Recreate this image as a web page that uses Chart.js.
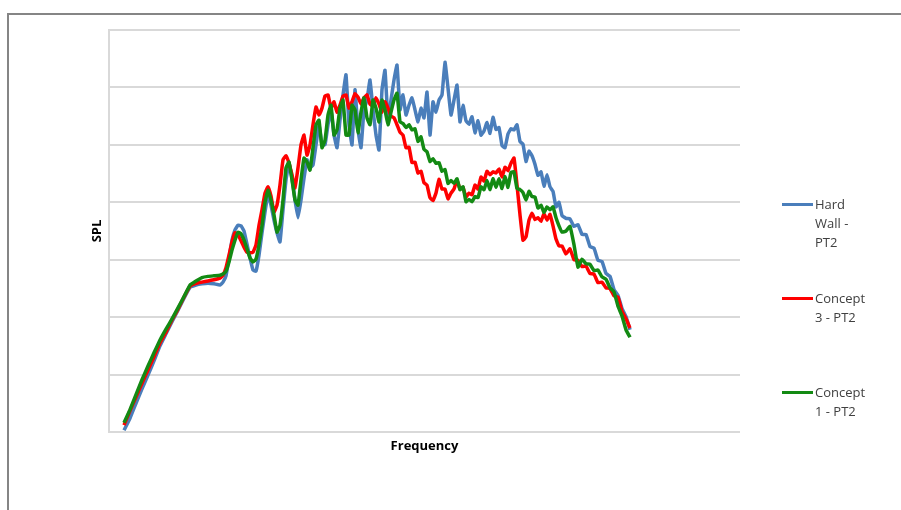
<!DOCTYPE html>
<html lang="en">
<head>
    <meta charset="UTF-8">
    <title>SPL vs Frequency</title>
    <script src="https://cdn.jsdelivr.net/npm/chart.js"></script>
    <style>
        html, body { margin: 0; padding: 0; background: #fff; overflow: hidden; }
        #wrap { position: relative; width: 901px; height: 510px; overflow: hidden; }
        #frame { position: absolute; left: 7px; top: 13px; width: 1000px; height: 600px;
                 border-left: 2px solid #858585; border-top: 2px solid #858585; }
        #myChart { position: absolute; left: 0; top: 0; }
        #legend { position: absolute; left: 782px; top: 0; font-family: 'Open Sans', sans-serif;
                  font-size: 13px; color: #404040; }
        .item { position: absolute; left: 0; width: 100px; }
        .swatch { position: absolute; left: 0; top: 8px; width: 31px; height: 3px; }
        .label { position: absolute; left: 33px; top: 0; width: 58px; line-height: 19px; }
    </style>
</head>
<body>
<div id="wrap">
    <div id="frame"></div>
    <canvas id="myChart" width="901" height="510"></canvas>
    <div id="legend"></div>
</div>
<script>
    // frequency bins (shared by all three measurements)
    const freq = [
        15, 21, 27, 33, 39, 45, 51, 57, 63, 69, 75, 81, 87, 93, 99, 105, 111,
        114, 117, 120, 123, 126, 129, 132, 135, 138, 141, 144, 147, 150, 153, 156, 159, 162, 165, 168, 171,
        174, 177, 180, 183, 186, 189, 192, 195, 198, 201, 204, 207, 210, 213, 216, 219, 222, 225, 228, 231,
        234, 237, 240, 243, 246, 249, 252, 255, 258, 261, 264, 267, 270, 273, 276, 279, 282, 285, 288, 291,
        294, 297, 300, 303, 306, 309, 312, 315, 318, 321, 324, 327, 330, 333, 336, 339, 342, 345, 348, 351,
        354, 357, 360, 363, 366, 369, 372, 375, 378, 381, 384, 387, 390, 393, 396, 399, 402, 405, 408, 411,
        414, 417, 420, 423, 426, 429, 432, 435, 438, 441, 444, 447, 450, 453,
        457, 461, 465, 469, 473, 477, 481, 485, 489, 493, 497, 501, 505, 509, 513, 517, 521
    ];

    const hardWall = [
        0.3, 2.4, 5.0, 7.5, 9.9, 12.4, 15.0, 17.1, 19.2, 21.2, 23.3, 25.2, 25.6, 25.8, 25.9, 25.8, 25.6,
        26.1, 27.2, 30.3, 33.4, 35.2, 36.0, 35.9, 35.0, 32.7, 30.3,
        28.2, 28.0, 30.8, 34.7, 38.3, 41.4, 39.5, 36.9, 34.7, 33.1,
        38.7, 43.9, 46.8, 44.2, 40.4, 37.3, 40.4, 44.2, 47.4, 46.0,
        46.5, 50.0, 53.5, 50.0, 50.0, 53.5, 56.1, 51.7, 49.5, 54.3,
        58.7, 62.2, 53.5, 50.0, 59.6, 52.6, 49.5, 56.1, 57.8, 61.3,
        56.1, 51.7, 49.1, 59.6, 63.0, 54.3, 57.8, 61.3, 63.9, 56.1,
        58.7, 55.2, 56.9, 58.2, 56.1, 54.0, 56.4, 54.7, 59.2, 51.7,
        57.5, 55.7, 57.8, 58.7, 64.4, 59.9, 55.2, 57.8, 60.4, 54.0,
        56.9, 54.2, 53.6, 54.9, 52.1, 54.2, 51.7, 52.4, 53.9, 52.0,
        54.8, 52.7, 53.0, 49.9, 49.5, 51.9, 52.8, 52.6, 53.5, 50.6,
        50.1, 47.1, 48.9, 48.1, 46.6, 44.7, 45.3, 42.8, 44.8, 42.7,
        41.9, 39.2, 40.0, 37.7,
        37.2, 37.1, 35.8, 36.1, 34.4, 34.4, 32.3, 32.0, 29.9, 29.7, 27.6, 27.1, 24.8, 23.8, 21.5, 20.1, 17.8
    ];

    const concept3 = [
        1.2, 3.7, 6.1, 8.5, 10.8, 13.1, 15.5, 17.4, 19.5, 21.4, 23.5, 25.4, 25.9, 26.1, 26.3, 26.5, 26.8,
        27.3, 28.6, 30.8, 33.1, 34.7, 34.3, 33.3, 32.2, 31.3, 31.2,
        31.3, 32.6, 36.0, 38.7, 41.6, 42.7, 41.1, 38.3, 39.5, 43.0,
        47.4, 48.1, 46.8, 44.8, 42.5, 46.0, 50.0, 51.7, 48.2, 50.0,
        53.5, 56.6, 55.2, 56.4, 58.5, 58.7, 56.4, 57.5, 55.7, 56.9,
        58.5, 58.7, 56.4, 57.5, 58.9, 58.3, 57.1, 58.2, 58.7, 57.1,
        56.8, 58.2, 57.1, 55.7, 57.5, 56.4, 55.0, 54.7, 53.5, 52.2,
        51.7, 49.5, 49.6, 46.9, 47.0, 45.1, 45.4, 43.4, 43.0, 40.8,
        40.3, 41.6, 44.0, 42.3, 42.3, 40.6, 41.6, 42.3, 43.9, 42.3,
        42.6, 40.9, 41.6, 41.3, 43.0, 42.3, 44.4, 43.7, 45.4, 44.8,
        45.3, 45.1, 45.8, 44.4, 46.1, 45.5, 46.8, 47.7, 43.0, 37.8,
        33.4, 34.0, 36.9, 38.1, 37.0, 37.3, 36.7, 38.0, 36.9, 37.9,
        35.9, 33.6, 32.4, 32.4,
        31.0, 31.9, 30.0, 29.9, 28.8, 28.9, 27.6, 27.5, 26.0, 26.1, 25.1, 25.0, 23.7, 23.5, 21.0, 19.7, 18.1
    ];

    const concept1 = [
        1.6, 3.9, 6.5, 9.1, 11.5, 13.8, 16.0, 17.9, 19.7, 21.6, 23.6, 25.6, 26.3, 26.9, 27.1, 27.2, 27.3,
        27.5, 28.0, 29.6, 31.7, 33.4, 34.8, 34.5, 33.4, 31.9, 30.3,
        29.6, 30.1, 32.6, 35.9, 40.0, 42.1, 40.4, 37.8, 34.8, 36.0,
        40.4, 46.0, 47.0, 43.9, 40.4, 39.5, 43.9, 47.7, 47.0, 45.6,
        49.5, 53.5, 54.3, 49.5, 50.8, 55.2, 56.9, 51.7, 52.6, 56.4,
        57.8, 51.7, 51.7, 56.9, 56.1, 52.1, 55.7, 58.2, 54.7, 53.5,
        57.8, 56.4, 54.0, 57.8, 56.1, 53.5, 55.7, 57.8, 59.0, 54.0,
        53.7, 53.0, 53.5, 52.6, 52.8, 50.6, 51.4, 49.2, 48.8, 47.1,
        47.6, 46.8, 46.9, 45.4, 45.7, 43.3, 43.8, 43.3, 44.1, 42.2,
        42.7, 40.1, 40.5, 40.1, 41.0, 40.8, 42.7, 42.2, 43.8, 42.2,
        44.1, 42.6, 44.1, 42.4, 44.5, 42.6, 45.2, 45.3, 42.4, 42.2,
        41.7, 40.4, 41.9, 41.0, 40.9, 39.0, 39.5, 38.2, 39.2, 38.7,
        39.2, 37.3, 35.9, 34.8,
        35.0, 35.8, 32.6, 28.7, 30.1, 29.3, 29.2, 28.1, 28.2, 27.0, 26.6, 25.1, 24.4, 21.9, 20.2, 17.8, 16.5
    ];

    const seriesNames = ['Hard Wall - PT2', 'Concept 3 - PT2', 'Concept 1 - PT2'];
    const seriesColors = ['#4a7ebb', '#ff0000', '#138a13'];

    function toPoints(values) {
        return values.map((v, i) => ({x: freq[i], y: v}));
    }

    Chart.defaults.font.family = "'Open Sans', sans-serif";

    const data = {
        datasets: [hardWall, concept3, concept1].map((vals, i) => ({
            label: seriesNames[i],
            data: toPoints(vals),
            borderColor: seriesColors[i],
            backgroundColor: seriesColors[i],
            borderWidth: 3.5,
            pointRadius: 0,
            tension: 0.1,
            order: 3 - i
        }))
    };

    const config = {
        type: 'line',
        data: data,
        options: {
            responsive: false,
            animation: false,
            layout: {
                padding: {left: 89.4, right: 161, top: 30, bottom: 56.4}
            },
            plugins: {
                legend: {display: false},
                tooltip: {enabled: false}
            },
            scales: {
                x: {
                    type: 'linear',
                    min: 0,
                    max: 631,
                    grid: {display: false, drawTicks: false},
                    border: {display: false},
                    ticks: {display: false},
                    title: {
                        display: true,
                        text: 'Frequency',
                        color: '#000',
                        font: {size: 13, weight: 'bold'},
                        padding: {top: 6, bottom: 0}
                    }
                },
                y: {
                    min: 0,
                    max: 70,
                    ticks: {display: false, stepSize: 10},
                    grid: {color: '#d9d9d9', lineWidth: 2, drawTicks: false},
                    border: {display: true, color: '#d9d9d9', width: 2},
                    title: {
                        display: true,
                        text: 'SPL',
                        color: '#000',
                        font: {size: 13, weight: 'bold'},
                        padding: {top: 0, bottom: 4}
                    }
                }
            }
        }
    };

    const chart = new Chart(document.getElementById('myChart').getContext('2d'), config);

    // legend on the right, one entry every 94px
    const legend = document.getElementById('legend');
    chart.data.datasets.forEach((ds, i) => {
        const item = document.createElement('div');
        item.className = 'item';
        item.style.top = (194.5 + i * 94) + 'px';
        item.innerHTML = '<div class="swatch" style="background:' + ds.borderColor + '"></div>' +
            '<div class="label">' + ds.label + '</div>';
        legend.appendChild(item);
    });
</script>
</body>
</html>
